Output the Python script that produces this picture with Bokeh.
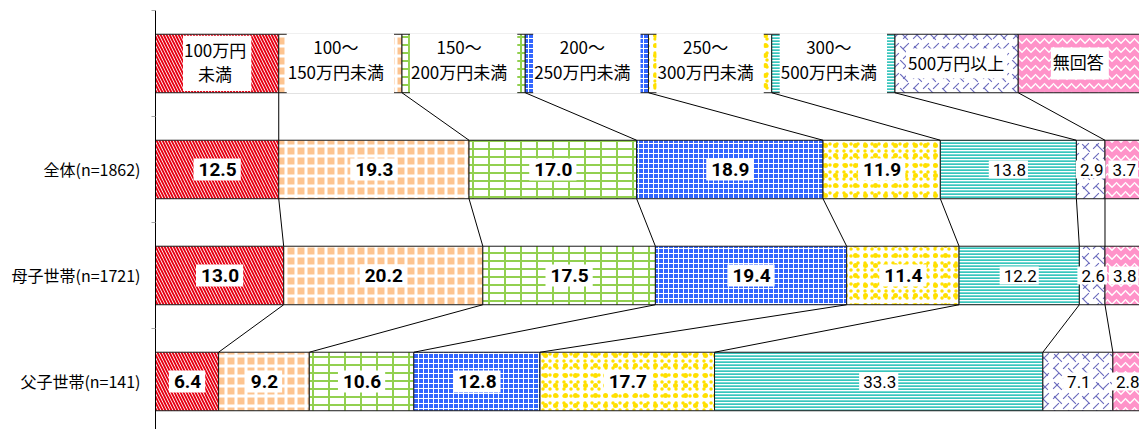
import numpy as np
from bokeh.plotting import figure
from bokeh.models import ColumnDataSource, Range1d, FixedTicker
from bokeh.core.properties import value
from bokeh.embed import file_html
from bokeh.resources import INLINE

# ---------------- data ----------------
categories = ["全体(n=1862)", "母子世帯(n=1721)", "父子世帯(n=141)"]
series_labels = ["100万円\n未満", "100～\n150万円未満", "150～\n200万円未満", "200～\n250万円未満",
                 "250～\n300万円未満", "300～\n500万円未満", "500万円以上", "無回答"]
zentai = [12.5, 19.3, 17.0, 18.9, 11.9, 13.8, 2.9, 3.7]
boshi = [13.0, 20.2, 17.5, 19.4, 11.4, 12.2, 2.6, 3.8]
fushi = [6.4, 9.2, 10.6, 12.8, 17.7, 33.3, 7.1, 2.8]

rows = [zentai, boshi, fushi]
n_series = len(series_labels)
header_share = [100.0 / n_series] * n_series

# ---------------- styles: background fill + one or more hatch layers ----------------
PEACH, GREEN, BLUE, YELLOW, TEAL, PURPLE, PINK, RED = (
    "#fdc490", "#92d050", "#3366ff", "#ffe000", "#38c6bd", "#6b6bbd", "#ff93c9", "#e60012")
styles = [
    dict(fill="white", layers=[("left_diagonal_line", RED, 6, 1.9)]),
    dict(fill=PEACH, layers=[("cross", "white", 10, 3)]),
    dict(fill="white", layers=[("horizontal_line", GREEN, 8, 2), ("vertical_line", GREEN, 16, 2)]),
    dict(fill=BLUE, layers=[("cross", "white", 5, 1)]),
    dict(fill="white", layers=[("dot", YELLOW, 7, 1), ("dot", YELLOW, 10, 1)]),
    dict(fill="white", layers=[("horizontal_line", TEAL, 3, 2.4)]),
    dict(fill="white", layers=[("right_diagonal_dash", PURPLE, 10, 1.1), ("left_diagonal_dash", PURPLE, 14, 1.1)]),
    dict(fill=PINK, layers=[("horizontal_wave", "white", 9, 1.5)]),
]

BAR_H = 0.552
X_END = 99.8
JP = "Noto Sans CJK JP"
NUM = "Roboto"

p = figure(width=1139, height=429, output_backend="svg", toolbar_location=None,
           x_range=Range1d(0, X_END), y_range=Range1d(3.453, -0.5),
           x_axis_location=None, min_border_left=155, min_border_right=0,
           min_border_top=10, min_border_bottom=0)
p.outline_line_color = None
p.xgrid.visible = False
p.ygrid.visible = False

ax = p.yaxis[0]
ax.ticker = FixedTicker(ticks=[1, 2, 3], minor_ticks=[-0.5, 0.5, 1.5, 2.5, 3.5])
ax.major_label_overrides = {1: categories[0], 2: categories[1], 3: categories[2]}
ax.major_tick_out = 0
ax.major_tick_in = 0
ax.minor_tick_out = 4
ax.minor_tick_in = 0
ax.minor_tick_line_color = "#a6a6a6"
ax.axis_line_color = "black"
ax.major_label_standoff = 11
ax.major_label_text_font = JP
ax.major_label_text_font_size = "16px"
ax.major_label_text_color = "black"

all_rows = [header_share] + rows
cums = [np.concatenate([[0.0], np.cumsum(r)]) for r in all_rows]
ys = np.arange(len(all_rows))

for j in range(n_series):
    st = styles[j]
    src = ColumnDataSource(dict(y=ys, left=[c[j] for c in cums], right=[c[j + 1] for c in cums]))
    for li, (pat, hc, sc, w) in enumerate(st["layers"]):
        first = li == 0
        p.hbar(y="y", left="left", right="right", height=BAR_H, source=src,
               fill_color=st["fill"], fill_alpha=1.0 if first else 0.0,
               line_color=None, hatch_pattern=pat, hatch_color=hc, hatch_scale=sc, hatch_weight=w)
    # outline on top
    p.hbar(y="y", left="left", right="right", height=BAR_H, source=src,
           fill_color=None, line_color="#1a1a1a", line_width=1)

# connector lines between consecutive rows
x0, y0, x1, y1 = [], [], [], []
for r in range(len(all_rows) - 1):
    for k in range(1, n_series):
        x0.append(cums[r][k]); y0.append(r + BAR_H / 2)
        x1.append(cums[r + 1][k]); y1.append(r + 1 - BAR_H / 2)
p.segment(x0=x0, y0=y0, x1=x1, y1=y1, line_color="black", line_width=1)

# header labels
hx = [(cums[0][j] + cums[0][j + 1]) / 2 for j in range(n_series)]
groups = [([0], (1, 5)), ([1, 2, 3, 4, 5], (1, 10)), ([6], (2, 3)), ([7], (2, 5))]
for idx, (padv, padh) in groups:
    p.text(x=[hx[i] for i in idx], y=[0] * len(idx), text=[series_labels[i] for i in idx],
           text_font=value(JP), text_font_size="17px", text_color="black",
           text_align="center", text_baseline="middle", text_line_height=0.97,
           background_fill_color="white", padding=(padv, padh, padv, padh))

# value labels
for j in range(n_series):
    xs, yv, tv = [], [], []
    for r in range(1, len(all_rows)):
        c = (cums[r][j] + cums[r][j + 1]) / 2
        xs.append(c); yv.append(r); tv.append(f"{all_rows[r][j]:.1f}")
    bold = j < 5
    p.text(x=xs, y=yv, text=tv, text_font=value(NUM),
           text_font_size="19px" if bold else "17px",
           text_font_style="bold" if bold else "normal", text_color="black",
           text_align="center", text_baseline="middle",
           background_fill_color="white",
           padding=(5, 4, 5, 4) if bold else (4, 2, 4, 2))

open("out.html", "w").write(file_html(p, INLINE))
